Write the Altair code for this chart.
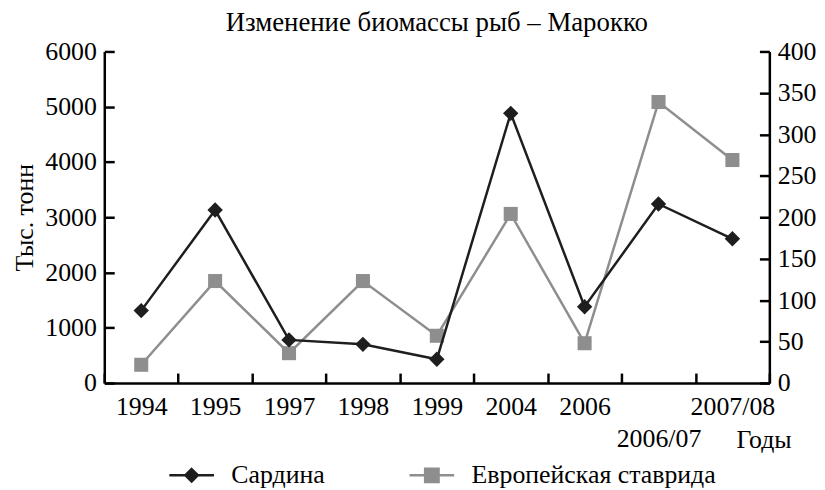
import altair as alt
import pandas as pd

# ---- data ----
years = ["1994", "1995", "1997", "1998", "1999", "2004", "2006", "2006/07", "2007/08"]
sardine = [1310, 3130, 780, 700, 430, 4880, 1380, 3240, 2610]      # left axis, тыс. тонн
mackerel = [22, 123, 36, 123, 57, 204, 48, 339, 269]               # right axis
series_names = ["Сардина", "Европейская ставрида"]
series_colors = ["#1e1e1e", "#8e8e8e"]
left_ticks = [0, 1000, 2000, 3000, 4000, 5000, 6000]
right_ticks = [0, 50, 100, 150, 200, 250, 300, 350, 400]

FONT = "Liberation Serif"
FS = 26
BLACK = "#000000"
PLOT_W, PLOT_H = 670, 334

df = pd.DataFrame({"year": years, "sardine": sardine, "mackerel": mackerel})
legend_df = pd.DataFrame({"series": series_names})

x_enc = alt.X(
    "year:N",
    sort=years,
    bandPosition=0.5,
    scale=alt.Scale(type="band", paddingInner=0, paddingOuter=0),
    title="Годы",
    axis=alt.Axis(
        labelAngle=0,
        tickBand="extent",
        ticks=False,
        grid=True,
        gridColor=BLACK,
        gridWidth=2.5,
        gridDash=[10, PLOT_H - 10],
        gridDashOffset=10,
        labelExpr="datum.value == '2006/07' ? ['', '2006/07'] : datum.value",
        labelLineHeight=32,
        labelPadding=11,
        titleX=692,
        titleY=65,
        titleAlign="right",
        titleBaseline="alphabetic",
    ),
)

left_axis = alt.Axis(
    orient="left",
    values=left_ticks,
    format="d",
    title="Тыс. тонн",
    titleX=-80,
    titleY=PLOT_H / 2,
    titleAlign="center",
    titleBaseline="middle",
    labelPadding=8,
    ticks=False,
    grid=True,
    gridColor=BLACK,
    gridWidth=2.5,
    gridDash=[10, 1000],
)
right_axis = alt.Axis(
    orient="right",
    values=right_ticks,
    format="d",
    title=None,
    labelPadding=8,
    ticks=False,
    grid=True,
    gridColor=BLACK,
    gridWidth=2.5,
    gridDash=[10, 1000],
)

base = alt.Chart(df)

y_s = alt.Y("sardine:Q", scale=alt.Scale(domain=[0, 6000], nice=False), axis=left_axis)
y_m = alt.Y("mackerel:Q", scale=alt.Scale(domain=[0, 400], nice=False), axis=right_axis)

mack = alt.layer(
    base.mark_line(color=series_colors[1], strokeWidth=2.5).encode(x=x_enc, y=y_m),
    base.mark_point(shape="square", filled=True, color=series_colors[1], size=200, opacity=1).encode(x=x_enc, y=y_m),
)
sard = alt.layer(
    base.mark_line(color=series_colors[0], strokeWidth=2.5).encode(x=x_enc, y=y_s),
    base.mark_point(shape="diamond", filled=True, color=series_colors[0], size=240, opacity=1).encode(x=x_enc, y=y_s),
)

leg_paths = [
    "M-1,0L1,0M0,-0.28L0.28,0L0,0.28L-0.28,0Z",
    "M-1,0L1,0M-0.3,-0.3L0.3,-0.3L0.3,0.3L-0.3,0.3Z",
]
legend = alt.Legend(
    orient="none",
    legendX=64,
    legendY=403,
    direction="horizontal",
    title=None,
    labelFont=FONT,
    labelFontSize=FS,
    labelColor=BLACK,
    symbolSize=2025,
    symbolStrokeWidth=2.5,
    labelOffset=16,
    columnPadding=79,
    labelLimit=400,
    padding=0,
)
legend_layer = (
    alt.Chart(legend_df)
    .transform_filter("false")
    .mark_point(filled=True, opacity=1)
    .encode(
        shape=alt.Shape("series:N", sort=series_names,
                        scale=alt.Scale(domain=series_names, range=leg_paths), legend=legend),
        fill=alt.Fill("series:N", sort=series_names,
                      scale=alt.Scale(domain=series_names, range=series_colors), legend=legend),
        stroke=alt.Stroke("series:N", sort=series_names,
                          scale=alt.Scale(domain=series_names, range=series_colors), legend=legend),
    )
)

chart = (
    alt.layer(mack, sard, legend_layer)
    .resolve_scale(y="independent")
    .properties(
        width=PLOT_W,
        height=PLOT_H,
        title=alt.TitleParams(
            "Изменение биомассы рыб – Марокко",
            font=FONT,
            fontSize=27,
            fontWeight="normal",
            color=BLACK,
            anchor="middle",
            frame="group",
            offset=2,
        ),
        autosize=alt.AutoSizeParams(type="none"),
        padding={"left": 97, "top": 42, "right": 48, "bottom": 106},
    )
    .configure_view(stroke=None)
    .configure_axis(
        labelFont=FONT,
        labelFontSize=FS,
        labelColor=BLACK,
        titleFont=FONT,
        titleFontSize=FS,
        titleFontWeight="normal",
        titleColor=BLACK,
        domainColor=BLACK,
        domainWidth=2.5,
    )
)

chart.save("out.html", embed_options={"renderer": "svg", "actions": False})
